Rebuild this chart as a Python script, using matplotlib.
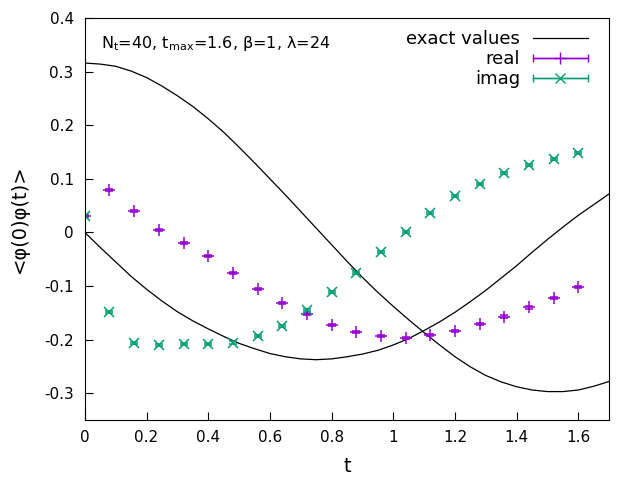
import numpy as np
import matplotlib
matplotlib.use("Agg")
import matplotlib.pyplot as plt
from matplotlib.container import ErrorbarContainer
from matplotlib.legend_handler import HandlerErrorbar
from matplotlib.lines import Line2D
from matplotlib.ticker import FuncFormatter

plt.rcParams['font.family'] = ['DejaVu Sans']
plt.rcParams['axes.unicode_minus'] = False

# ---- data ----
t_pts = [0.00, 0.08, 0.16, 0.24, 0.32, 0.40, 0.48, 0.56, 0.64, 0.72, 0.80,
         0.88, 0.96, 1.04, 1.12, 1.20, 1.28, 1.36, 1.44, 1.52, 1.60]
real_vals = [0.031, 0.079, 0.0395, 0.004, -0.020, -0.044, -0.0756, -0.105, -0.132, -0.1527, -0.1726,
             -0.186, -0.194, -0.197, -0.191, -0.184, -0.171, -0.157, -0.140, -0.1216, -0.102]
real_err = [0.002, 0.002, 0.002, 0.002, 0.002, 0.002, 0.002, 0.002, 0.002, 0.002, 0.002,
            0.002, 0.002, 0.002, 0.002, 0.002, 0.002, 0.002, 0.002, 0.002, 0.002]
imag_vals = [0.030, -0.149, -0.207, -0.210, -0.209, -0.209, -0.2055, -0.193, -0.174, -0.1446, -0.1116,
             -0.075, -0.0358, 0.0004, 0.036, 0.0675, 0.0905, 0.111, 0.126, 0.137, 0.148]
imag_err = [0.002, 0.002, 0.002, 0.002, 0.002, 0.002, 0.002, 0.002, 0.002, 0.002, 0.002,
            0.002, 0.002, 0.002, 0.002, 0.002, 0.002, 0.002, 0.002, 0.002, 0.002]

t_exact = [0.00, 0.05, 0.10, 0.15, 0.20, 0.25, 0.30, 0.35, 0.40, 0.45, 0.50, 0.55,
           0.60, 0.65, 0.70, 0.75, 0.80, 0.85, 0.90, 0.95, 1.00, 1.05, 1.10, 1.15,
           1.20, 1.25, 1.30, 1.35, 1.40, 1.45, 1.50, 1.55, 1.60, 1.65, 1.70]
exact_re = [0.316, 0.314, 0.310, 0.301, 0.289, 0.273, 0.255, 0.235, 0.212, 0.187, 0.159, 0.130,
            0.100, 0.070, 0.039, 0.008, -0.023, -0.054, -0.084, -0.112, -0.138, -0.163, -0.187, -0.210,
            -0.232, -0.251, -0.267, -0.279, -0.288, -0.294, -0.297, -0.297, -0.294, -0.287, -0.278]
exact_im = [0.000, -0.028, -0.055, -0.082, -0.106, -0.128, -0.148, -0.165, -0.180, -0.194, -0.207, -0.217,
            -0.226, -0.232, -0.236, -0.2375, -0.236, -0.232, -0.227, -0.220, -0.210, -0.198, -0.183, -0.167,
            -0.149, -0.129, -0.108, -0.085, -0.062, -0.037, -0.013, 0.010, 0.032, 0.052, 0.072]

x_ticks = [0, 0.2, 0.4, 0.6, 0.8, 1.0, 1.2, 1.4, 1.6]
y_ticks = [-0.3, -0.2, -0.1, 0, 0.1, 0.2, 0.3, 0.4]

col_real = '#9400D3'
col_imag = '#009E73'

fig = plt.figure(figsize=(6.4, 4.8), dpi=100)
ax = fig.add_axes([0.1325, 0.125, 0.8195, 0.8375])

ax.plot(t_exact, exact_re, color='black', lw=0.9)
ax.plot(t_exact, exact_im, color='black', lw=0.9)

ax.errorbar(t_pts, real_vals, yerr=real_err, fmt='+', ms=8.5, mew=1.1, color=col_real,
            ecolor=col_real, elinewidth=1.0, capsize=2.6, capthick=1.1)
ax.errorbar(t_pts, imag_vals, yerr=imag_err, fmt='x', ms=6.5, mew=1.1, color=col_imag,
            ecolor=col_imag, elinewidth=1.0, capsize=2.6, capthick=1.1)

# legend handles (gnuplot-style horizontal errorbar keys)
h_exact = Line2D([], [], color='black', lw=0.9)
h_real = ax.errorbar([np.nan], [np.nan], xerr=[0.1], fmt='+', ls='-', lw=1.0, ms=8.5, mew=1.0,
                     color=col_real, capsize=3, capthick=1.0)
h_imag = ax.errorbar([np.nan], [np.nan], xerr=[0.1], fmt='x', ls='-', lw=1.0, ms=6.5, mew=1.0,
                     color=col_imag, capsize=3, capthick=1.0)
hl = 3.05
leg = ax.legend([h_exact, h_real, h_imag], ['exact values', 'real', 'imag'],
                loc='upper right', bbox_to_anchor=(0.9594, 0.970), frameon=False,
                markerfirst=False, fontsize=13, handlelength=hl, handletextpad=0.72,
                labelspacing=0.12, borderpad=0, borderaxespad=0, numpoints=1,
                handler_map={ErrorbarContainer: HandlerErrorbar(xerr_size=hl / 2)})

ax.text(0.0525, 0.3525, r'$\mathregular{N_t}$=40, $\mathregular{t_{max}}$=1.6, β=1, λ=24',
        fontsize=11.5, ha='left', va='center')

ax.set_xlim(0, 1.7)
ax.set_ylim(-0.35, 0.4)
ax.set_xticks(x_ticks)
ax.set_yticks(y_ticks)
fmt = FuncFormatter(lambda v, p: '%g' % round(v, 6))
ax.xaxis.set_major_formatter(fmt)
ax.yaxis.set_major_formatter(fmt)
ax.tick_params(direction='in', length=5.5, width=0.8, labelsize=11, top=False, right=False)
ax.tick_params(axis='x', pad=7)
ax.tick_params(axis='y', pad=8)
for s in ax.spines.values():
    s.set_linewidth(0.8)

ax.set_xlabel('t', fontsize=14, labelpad=9)
ax.set_ylabel('<φ(0)φ(t)>', fontsize=14, labelpad=11)

fig.savefig('out.png', dpi=100)
